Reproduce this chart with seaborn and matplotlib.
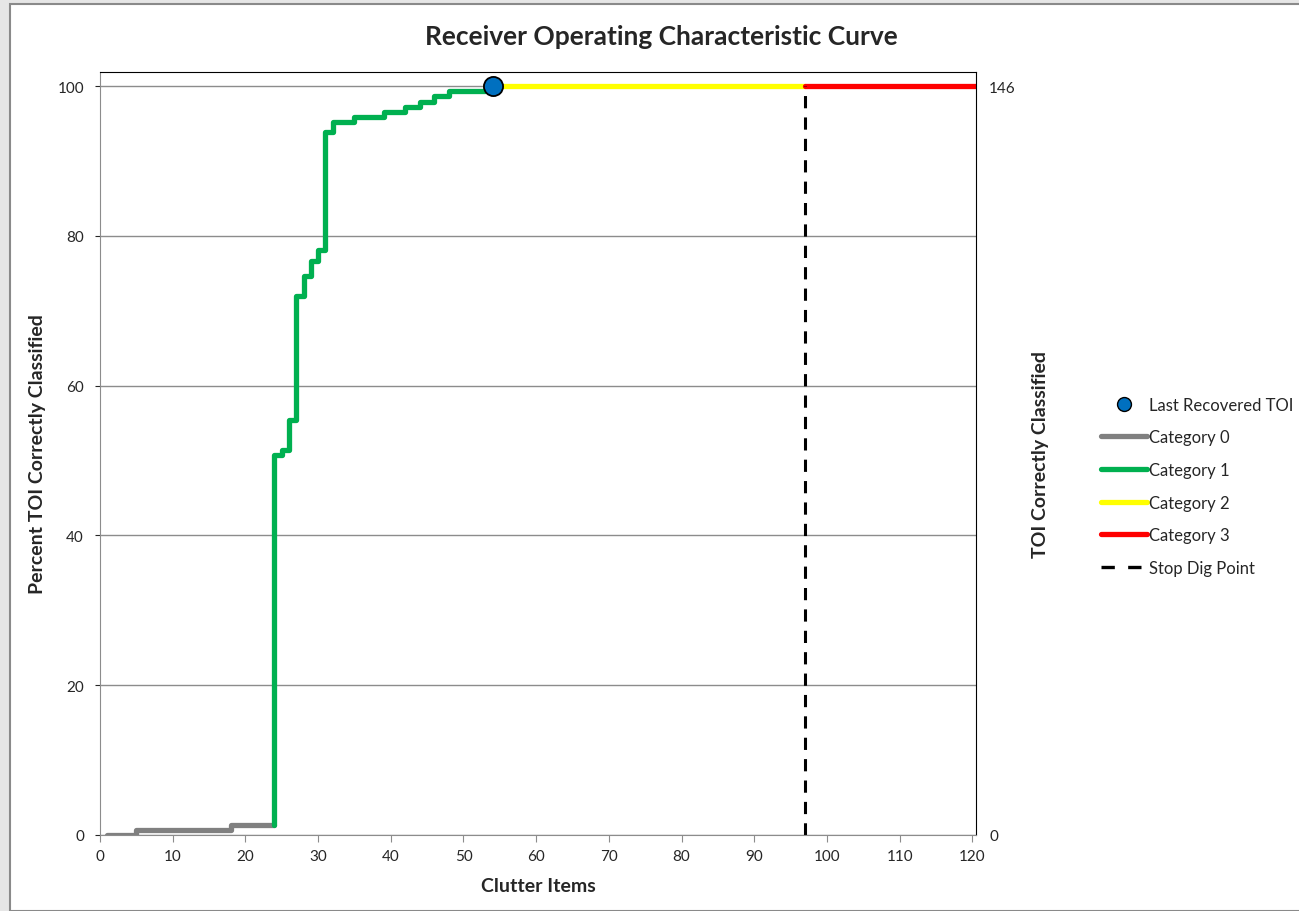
import numpy as np
import pandas as pd
import matplotlib
matplotlib.use("Agg")
import matplotlib.pyplot as plt
import seaborn as sns
from matplotlib.lines import Line2D
from matplotlib.patches import Rectangle

total_toi = 146

# clutter items dug vs cumulative TOI found, per category
cat0_x = [1, 5, 18, 24]
cat0_n = [0, 1, 2, 2]
cat1_x = [24, 24, 25, 26, 27, 28, 29, 30, 31, 32, 35, 39, 42, 44, 46, 48, 53]
cat1_n = [2, 74, 75, 81, 105, 109, 112, 114, 137, 139, 140, 141, 142, 143, 144, 145, 145]
cat2_x = [53, 97]
cat2_n = [146, 146]
cat3_x = [97, 120.5]
cat3_n = [146, 146]
last_toi_x = [54]
last_toi_n = [146]
stop_dig_x = [97, 97]
stop_dig_pct = [0, 100]

def pct(n):
    return [v / total_toi * 100 for v in n]

sns.set_style("white")
plt.rcParams['font.family'] = ['Lato', 'DejaVu Sans']

fig = plt.figure(figsize=(12.99, 9.12), dpi=100)
fig.patch.set_facecolor("#e6e6e6")
fig.patches.append(Rectangle((10 / 1299, 0), 1.0, 1 - 5 / 912, transform=fig.transFigure,
                             facecolor="white", edgecolor="#8a8a8a", linewidth=1.5, zorder=-1))
ax = fig.add_axes([100 / 1299, 1 - 836 / 912, 876 / 1299, 763 / 912])
ax.set_facecolor("white")

lw = 3.8
sns.lineplot(x=cat0_x, y=pct(cat0_n), ax=ax, color="#808080", lw=lw, drawstyle="steps-post",
             estimator=None, sort=False, label="Category 0")
sns.lineplot(x=cat1_x, y=pct(cat1_n), ax=ax, color="#00b050", lw=lw, drawstyle="steps-post",
             estimator=None, sort=False, label="Category 1")
sns.lineplot(x=cat2_x, y=pct(cat2_n), ax=ax, color="#ffff00", lw=lw, estimator=None,
             sort=False, label="Category 2")
sns.lineplot(x=cat3_x, y=pct(cat3_n), ax=ax, color="#ff0000", lw=lw, estimator=None,
             sort=False, label="Category 3")
sns.lineplot(x=stop_dig_x, y=stop_dig_pct, ax=ax, color="black", lw=2.2, linestyle=(0, (4, 3)),
             estimator=None, sort=False, label="Stop Dig Point")
sns.scatterplot(x=last_toi_x, y=pct(last_toi_n), ax=ax, color="#0070c0", s=190,
                edgecolor="black", linewidth=1.3, zorder=5, label="Last Recovered TOI")

ax.set_xlim(0, 120.5)
ax.set_ylim(0, 101.9)
ax.set_xticks(range(0, 121, 10))
ax.set_yticks(range(0, 101, 20))
ax.grid(axis="y", color="#8c8c8c", lw=1)
ax.set_axisbelow(True)
for s in ["left", "bottom"]:
    ax.spines[s].set_color("#8c8c8c")
for s in ["top", "right"]:
    ax.spines[s].set_color("black")
ax.tick_params(axis="x", bottom=True, length=5, color="#8c8c8c", labelsize=11, pad=5)
ax.tick_params(axis="y", left=False, labelsize=11, pad=8)
ax.set_xlabel("Clutter Items", fontsize=14, fontweight="bold", labelpad=10)
ax.set_ylabel("Percent TOI Correctly Classified", fontsize=14, fontweight="bold", labelpad=8)
fig.suptitle("Receiver Operating Characteristic Curve", x=661 / 1299, y=1 - 37 / 912,
             va="center", fontsize=19, fontweight="bold")

ax2 = ax.twinx()
ax2.set_ylim(0, total_toi * 1.019)
ax2.set_yticks([0, total_toi])
ax2.tick_params(axis="y", right=False, labelsize=11, pad=6)
ax2.set_ylabel("TOI Correctly Classified", fontsize=14, fontweight="bold", labelpad=12)
for s in ax2.spines.values():
    s.set_visible(False)

ax.get_legend().remove()
handles = [
    Line2D([], [], marker="o", color="none", markerfacecolor="#0070c0", markeredgecolor="black",
           markersize=10),
    Line2D([], [], color="#808080", lw=lw),
    Line2D([], [], color="#00b050", lw=lw),
    Line2D([], [], color="#ffff00", lw=lw),
    Line2D([], [], color="#ff0000", lw=lw),
    Line2D([], [], color="black", lw=2.4, linestyle=(0, (4, 4))),
]
labels = ["Last Recovered TOI", "Category 0", "Category 1", "Category 2", "Category 3", "Stop Dig Point"]
ax.legend(handles, labels, loc="center left", bbox_to_anchor=(1.125, 0.457), frameon=False,
          fontsize=12, handlelength=2.8, handletextpad=0.1, labelspacing=1.0)

fig.savefig("out.png", dpi=100, facecolor=fig.get_facecolor())
